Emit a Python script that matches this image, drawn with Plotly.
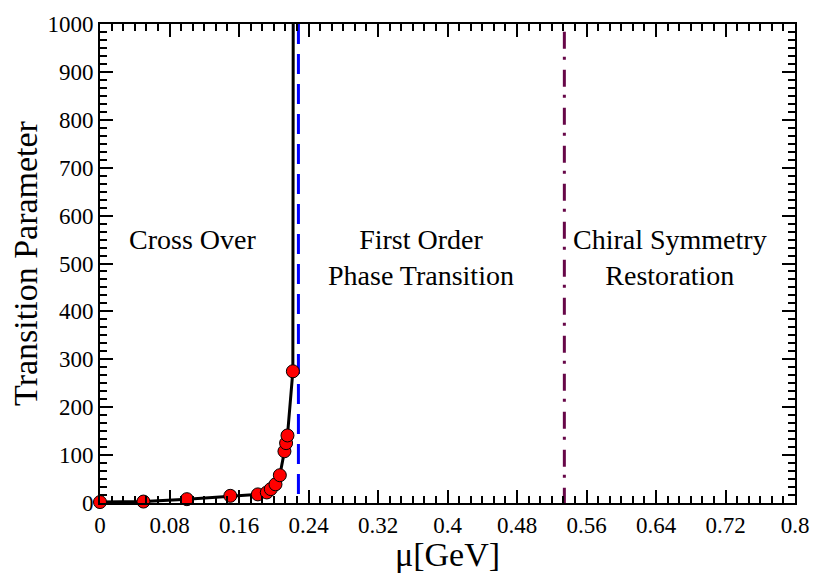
import plotly.graph_objects as go

mu = [0.0, 0.05, 0.10, 0.15, 0.1817, 0.192, 0.1966, 0.202, 0.207, 0.2123, 0.2142, 0.2158, 0.2220]
tp = [2, 3, 8, 15, 18, 22, 29, 39, 58, 108, 125, 141, 275]
line_end_mu = 0.2224
line_end_tp = 1000
first_order_mu = 0.2284
chiral_mu = 0.5345
x_ticks = [0.0, 0.08, 0.16, 0.24, 0.32, 0.40, 0.48, 0.56, 0.64, 0.72, 0.80]
x_tick_text = ["0", "0.08", "0.16", "0.24", "0.32", "0.4", "0.48", "0.56", "0.64", "0.72", "0.8"]
y_ticks = [0, 100, 200, 300, 400, 500, 600, 700, 800, 900, 1000]
labels = ["Cross Over", "First Order<br>Phase Transition", "Chiral Symmetry<br>Restoration"]
label_x = [0.1067, 0.3696, 0.6565]
label_y = [550, 513, 513]

FONT = "Liberation Serif"

fig = go.Figure()
fig.add_trace(go.Scatter(x=[first_order_mu, first_order_mu], y=[1000, 0], mode="lines",
                         line=dict(color="#0000ff", width=3, dash="20px,10px"), showlegend=False, hoverinfo="skip"))
fig.add_trace(go.Scatter(x=[chiral_mu, chiral_mu], y=[984, 0], mode="lines",
                         line=dict(color="#670748", width=3, dash="17px,8px,3px,10px"), showlegend=False, hoverinfo="skip"))
fig.add_trace(go.Scatter(x=mu + [line_end_mu], y=tp + [line_end_tp], mode="lines",
                         line=dict(color="black", width=3), showlegend=False, hoverinfo="skip"))
fig.add_trace(go.Scatter(x=mu, y=tp, mode="markers",
                         marker=dict(color="#ff0000", size=13, line=dict(color="black", width=1)),
                         showlegend=False, cliponaxis=False))

fig.update_layout(width=821, height=573, margin=dict(l=100, r=24, t=14, b=68),
                  font=dict(family=FONT, size=23, color="black"),
                  plot_bgcolor="white", paper_bgcolor="white")

for t, xx, yy in zip(labels, label_x, label_y):
    fig.add_annotation(x=xx, y=yy, text=t, showarrow=False, xref="x", yref="y",
                       font=dict(family=FONT, size=28, color="black"))

axis_common = dict(showgrid=False, zeroline=False, showline=True, linecolor="black", linewidth=2,
                   mirror="allticks", ticks="inside", ticklen=13, tickwidth=1.5, tickcolor="black",
                   tickfont=dict(family=FONT, size=23, color="black"))

fig.update_xaxes(range=[0, 0.8], tickvals=x_ticks, ticktext=x_tick_text,
                 minor=dict(ticks="inside", ticklen=7, tickwidth=1.5, tickcolor="black", dtick=0.08/6, tick0=0),
                 title=dict(text="μ[GeV]", font=dict(family=FONT, size=34, color="black"), standoff=0),
                 **axis_common)
fig.update_yaxes(range=[0, 1000], tickvals=y_ticks,
                 minor=dict(ticks="inside", ticklen=7, tickwidth=1.5, tickcolor="black", dtick=100/6, tick0=0),
                 title=dict(text="Transition Parameter", font=dict(family=FONT, size=34, color="black"), standoff=0),
                 **axis_common)

fig.write_html("out.html")
